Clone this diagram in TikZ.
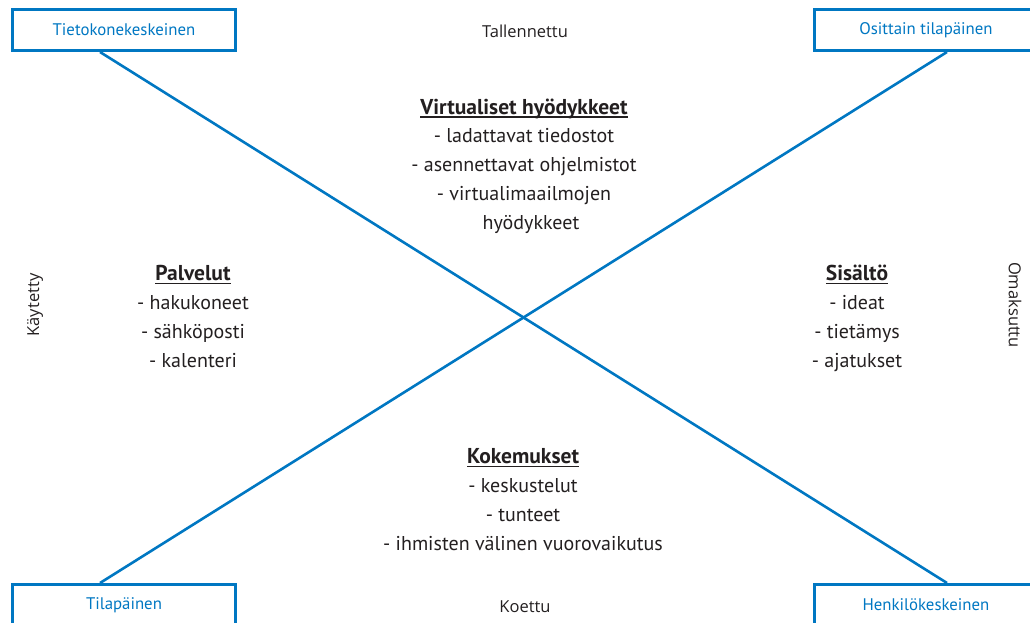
\documentclass[tikz,border=0pt]{standalone}
\usepackage{fontspec}
\setmainfont{PT Sans}
\newfontfamily\axisfont{Open Sans}
\usetikzlibrary{calc}
\definecolor{mapblue}{HTML}{0077C2}
\definecolor{ink}{HTML}{231F20}
% bold heading with a rule a fixed distance below the baseline
\newcommand\headline[1]{\setbox0\hbox{\fontsize{21.5}{28.7}\selectfont\bfseries #1}%
  \rlap{\rule[-3.5pt]{\wd0}{1.4pt}}\box0}
\tikzset{
  cornerbox/.style={draw=mapblue, line width=3pt, minimum width=223pt, minimum height=41pt,
    inner sep=0pt, text=mapblue, font=\fontsize{16.8}{20}\selectfont},
  axislabel/.style={text=ink, font=\axisfont\fontsize{16.5}{19}\selectfont, inner sep=0pt},
  % anchored at the baseline of the last line
  quadrant/.style={text=ink, align=center, anchor=base, inner sep=0pt,
    font=\fontsize{20}{28.7}\selectfont},
  diagonal/.style={draw=mapblue, line width=2.6pt}
}
\begin{document}
\begin{tikzpicture}[x=1pt,y=-1pt]
\useasboundingbox (0,0) rectangle (1030,623);
\clip (0,0) rectangle (1030,623);

% corner boxes
\node[cornerbox] (tl) at (124,30)  {Tietokonekeskeinen};
\node[cornerbox] (tr) at (926,30)  {Osittain tilapäinen};
\node[cornerbox] (bl) at (124,605) {Tilapäinen};
\node[cornerbox] (br) at (926,605) {Henkilökeskeinen};

% crossing diagonals
\draw[diagonal] ([xshift=-24pt]tl.south) -- ([xshift=21pt]br.north);
\draw[diagonal] ([xshift=21pt]tr.south) -- ([xshift=-24pt]bl.north);

% axis labels
\node[axislabel] (top) at (525,31) {Tallennettu};
\node[axislabel] (bottom) at (525,607) {Koettu};
\node[axislabel, rotate=90] (left) at (35,305) {Käytetty};
\node[axislabel, rotate=-90] (right) at (1015,305) {Omaksuttu};

% quadrant contents
\node[quadrant] (virt) at (524,229) {\headline{Virtualiset hyödykkeet}\\
  - ladattavat tiedostot\\ - asennettavat ohjelmistot\\
  - virtualimaailmojen\\ \hspace*{14pt}hyödykkeet};
\node[quadrant] (serv) at (193,367) {\headline{Palvelut}\\
  - hakukoneet\\ - sähköposti\\ - kalenteri};
\node[quadrant] (cont) at (857,367) {\headline{Sisältö}\\
  - ideat\\ - tietämys\\ - ajatukset};
\node[quadrant] (exp) at (523,550) {\headline{Kokemukset}\\
  - keskustelut\\ - tunteet\\ - ihmisten välinen vuorovaikutus};
\end{tikzpicture}
\end{document}
